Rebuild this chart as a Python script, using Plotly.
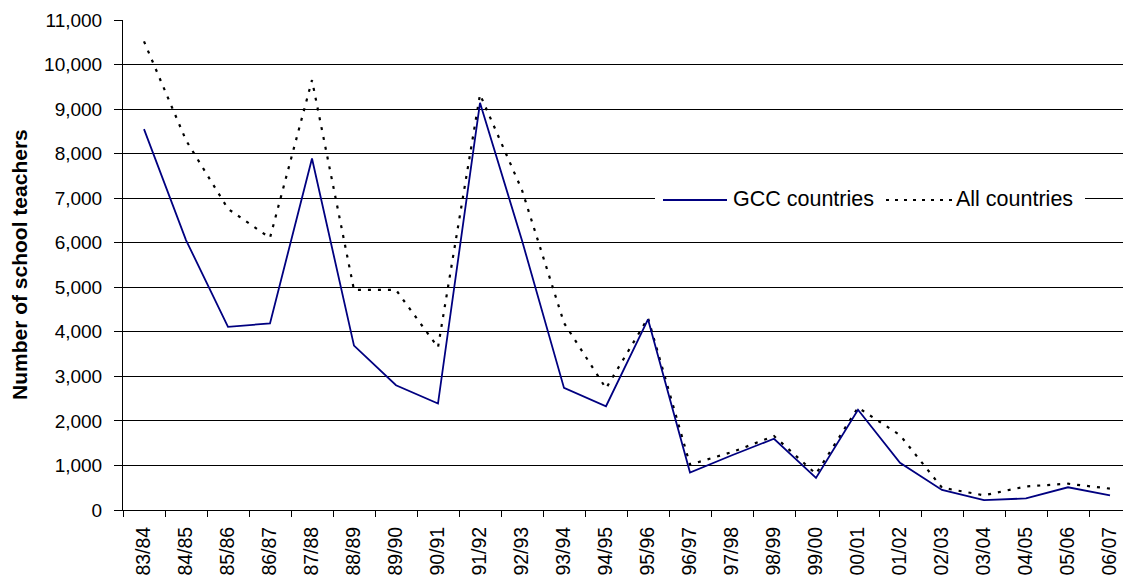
import plotly.graph_objects as go

# School years on the category axis
years = ["83/84", "84/85", "85/86", "86/87", "87/88", "88/89", "89/90", "90/91",
         "91/92", "92/93", "93/94", "94/95", "95/96", "96/97", "97/98", "98/99",
         "99/00", "00/01", "01/02", "02/03", "03/04", "04/05", "05/06", "06/07"]

# Number of school teachers per year
gcc_countries = [8550, 6060, 4110, 4190, 7890, 3690, 2800, 2390,
                 9140, 6050, 2740, 2330, 4280, 840, 1230, 1600,
                 720, 2250, 1060, 450, 220, 260, 510, 330]
all_countries = [10520, 8300, 6760, 6110, 9650, 4940, 4940, 3650,
                 9330, 7180, 4200, 2730, 4310, 1020, 1300, 1660,
                 810, 2300, 1680, 500, 330, 530, 590, 480]

series_names = ["GCC countries", "All countries"]
y_ticks = list(range(0, 11001, 1000))

FONT = "Liberation Sans, Arial, sans-serif"
NAVY = "#000080"

fig = go.Figure()
fig.add_trace(go.Scatter(
    x=years, y=all_countries, mode="lines", name=series_names[1],
    line=dict(color="black", width=2.2, dash="3px,7px"),
))
fig.add_trace(go.Scatter(
    x=years, y=gcc_countries, mode="lines", name=series_names[0],
    line=dict(color=NAVY, width=1.8),
))

L, T, B = 123, 20, 70
W, H = 1123, 580
PW, PH = W - L, H - T - B


def px_x(px):
    return (px - L) / PW


def px_y(py):
    return (H - B - py) / PH


shapes = [
    # legend backdrop
    dict(type="rect", xref="paper", yref="paper",
         x0=px_x(655), x1=px_x(1085), y0=px_y(212), y1=px_y(186),
         fillcolor="white", line=dict(width=0), layer="above"),
    dict(type="line", xref="paper", yref="paper",
         x0=px_x(663), x1=px_x(727), y0=px_y(200), y1=px_y(200),
         line=dict(color=NAVY, width=1.8), layer="above"),
    dict(type="line", xref="paper", yref="paper",
         x0=px_x(886), x1=px_x(952), y0=px_y(200), y1=px_y(200),
         line=dict(color="black", width=2, dash="3px,6px"), layer="above"),
]

annotations = [
    dict(text=series_names[0], xref="paper", yref="paper",
         x=px_x(731), y=px_y(199), xanchor="left", yanchor="middle",
         showarrow=False, font=dict(family=FONT, size=21.5, color="black")),
    dict(text=series_names[1], xref="paper", yref="paper",
         x=px_x(954), y=px_y(199), xanchor="left", yanchor="middle",
         showarrow=False, font=dict(family=FONT, size=21.5, color="black")),
    dict(text="<b>Number of school teachers</b>", xref="paper", yref="paper",
         x=px_x(19), y=0.5, xanchor="center", yanchor="middle", textangle=-90,
         showarrow=False, font=dict(family=FONT, size=21, color="black")),
]

fig.update_layout(
    width=W, height=H,
    margin=dict(l=L, r=0, t=T, b=B, pad=0),
    paper_bgcolor="white", plot_bgcolor="white",
    showlegend=False,
    font=dict(family=FONT, size=18, color="black"),
    shapes=shapes,
    annotations=annotations,
)

fig.update_xaxes(
    type="category",
    range=[-0.5, -0.5 + PW / 42.0],
    tickson="boundaries",
    ticks="outside", ticklen=6, tickcolor="black", tickwidth=1,
    tickangle=-90,
    ticklabelstandoff=8,
    showline=True, linecolor="black", linewidth=1,
    showgrid=False, zeroline=False,
    tickfont=dict(family=FONT, size=19.5, color="black"),
)

fig.update_yaxes(
    range=[0, 11000],
    tickvals=y_ticks,
    tickformat=",",
    ticks="outside", ticklen=8, tickcolor="black", tickwidth=1,
    ticklabelstandoff=8,
    showline=True, linecolor="black", linewidth=1,
    showgrid=True, gridcolor="black", gridwidth=1,
    zeroline=False,
    tickfont=dict(family=FONT, size=19, color="black"),
)

fig.write_html("out.html")
